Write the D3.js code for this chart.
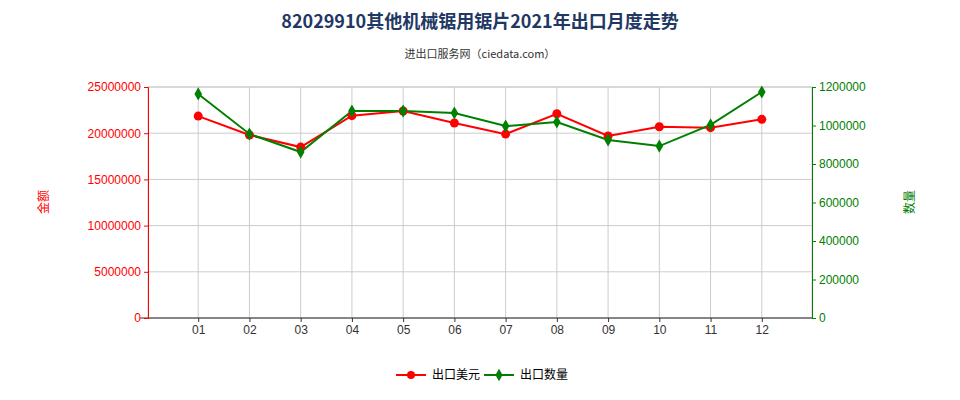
<!DOCTYPE html>
<html><head><meta charset="utf-8">
<script src="https://cdn.jsdelivr.net/npm/d3@7"></script>
<style>body{margin:0;background:#fff;font-family:"Noto Sans CJK SC","Noto Sans",sans-serif;}</style>
</head><body><div id="main"></div>
<script>
var months = ["01","02","03","04","05","06","07","08","09","10","11","12"];
var amount = [21850000,19800000,18500000,21900000,22400000,21100000,19900000,22100000,19700000,20700000,20600000,21500000];
var quantity = [1164000,956000,862000,1075000,1075000,1065000,997000,1018000,925000,893000,1003000,1174000];
var leftTicks = [0,5000000,10000000,15000000,20000000,25000000];
var rightTicks = [0,200000,400000,600000,800000,1000000,1200000];

var ctx = {w: 960, h: 400, left: 148, right: 812, top: 87, bottom: 318};
var svg = d3.select("#main").append("svg").attr("width", ctx.w).attr("height", ctx.h);

var x = d3.scalePoint().domain(months).range([ctx.left, ctx.right]).padding(0.98);
var yL = d3.scaleLinear().domain([0, 25000000]).range([ctx.bottom, ctx.top]);
var yR = d3.scaleLinear().domain([0, 1200000]).range([ctx.bottom, ctx.top]);

// grid
svg.selectAll(".hg").data(leftTicks).enter().append("line")
    .attr("x1", ctx.left).attr("x2", ctx.right)
    .attr("y1", function(d) { return yL(d); }).attr("y2", function(d) { return yL(d); })
    .style("stroke", "#ccc");
svg.selectAll(".vg").data(months).enter().append("line")
    .attr("x1", function(d) { return x(d); }).attr("x2", function(d) { return x(d); })
    .attr("y1", ctx.top).attr("y2", ctx.bottom)
    .style("stroke", "#ccc");
svg.append("rect").attr("x", ctx.left).attr("y", ctx.top).attr("width", ctx.right - ctx.left)
    .attr("height", ctx.bottom - ctx.top).style("fill", "none").style("stroke", "#ccc");

// axes
var ax = svg.append("g").attr("transform", "translate(0," + ctx.bottom + ")")
    .call(d3.axisBottom(x).tickSize(4));
ax.select(".domain").remove();
ax.append("line").attr("x1", ctx.left - 8).attr("x2", ctx.right).style("stroke", "#333");
ax.selectAll("text").style("font-size", "12px").style("fill", "#333");
ax.selectAll(".tick line").style("stroke", "#333");

var al = svg.append("g").attr("transform", "translate(" + ctx.left + ",0)")
    .call(d3.axisLeft(yL).tickValues(leftTicks).tickFormat(d3.format("d")).tickSize(4));
al.selectAll("path,line").style("stroke", "red");
al.selectAll("text").style("fill", "red").style("font-size", "12px");

var ar = svg.append("g").attr("transform", "translate(" + ctx.right + ",0)")
    .call(d3.axisRight(yR).tickValues(rightTicks).tickFormat(d3.format("d")).tickSize(4));
ar.selectAll("path,line").style("stroke", "green");
ar.selectAll("text").style("fill", "green").style("font-size", "12px");

// titles
svg.append("text").attr("x", 480).attr("y", 28).attr("text-anchor", "middle")
    .style("font-size", "18px").style("font-weight", "bold").style("fill", "#1f3864")
    .text("82029910其他机械锯用锯片2021年出口月度走势");
svg.append("text").attr("x", 480).attr("y", 58).attr("text-anchor", "middle")
    .style("font-size", "11px").style("fill", "#333").text("进出口服务网（ciedata.com）");
svg.append("text").attr("transform", "translate(48,202) rotate(-90)").attr("text-anchor", "middle")
    .style("font-size", "12px").style("fill", "red").text("金额");
svg.append("text").attr("transform", "translate(914,202) rotate(-90)").attr("text-anchor", "middle")
    .style("font-size", "12px").style("fill", "green").text("数量");

// series
function drawSeries(vals, y, col) {
    svg.append("path").datum(vals)
        .attr("d", d3.line().x(function(d, i) { return x(months[i]); }).y(function(d) { return y(d); }))
        .style("fill", "none").style("stroke", col).style("stroke-width", 2);
}
drawSeries(amount, yL, "red");
drawSeries(quantity, yR, "green");
svg.selectAll(".dot").data(amount).enter().append("circle")
    .attr("cx", function(d, i) { return x(months[i]); }).attr("cy", function(d) { return yL(d); })
    .attr("r", 4.5).style("fill", "red");
svg.selectAll(".dia").data(quantity).enter().append("path")
    .attr("transform", function(d, i) { return "translate(" + x(months[i]) + "," + yR(d) + ")"; })
    .attr("d", d3.symbol().type(d3.symbolDiamond).size(50)).style("fill", "green");

// legend
var lg = svg.append("g").attr("transform", "translate(396,375)");
lg.append("line").attr("x1", 0).attr("x2", 30).style("stroke", "red").style("stroke-width", 2);
lg.append("circle").attr("cx", 15).attr("r", 4).style("fill", "red");
lg.append("text").attr("x", 36).attr("y", 4).style("font-size", "12px").text("出口美元");
lg.append("line").attr("x1", 88).attr("x2", 118).style("stroke", "green").style("stroke-width", 2);
lg.append("path").attr("transform", "translate(103,0)").attr("d", d3.symbol().type(d3.symbolDiamond).size(45)).style("fill", "green");
lg.append("text").attr("x", 124).attr("y", 4).style("font-size", "12px").text("出口数量");
</script></body></html>
